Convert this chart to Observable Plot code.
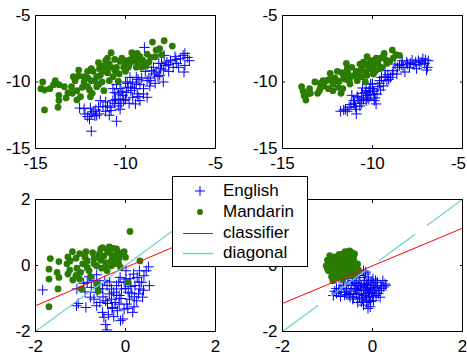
<!DOCTYPE html>
<html><head><meta charset="utf-8">
<script src="https://cdn.jsdelivr.net/npm/d3@7"></script>
<script src="https://cdn.jsdelivr.net/npm/@observablehq/plot@0.6"></script>
<style>
body{margin:0;background:#fff;}
#wrap{position:relative;width:467px;height:356px;overflow:hidden;font-family:"Liberation Sans",Arial,sans-serif;}
#wrap > svg{position:absolute;overflow:visible;}
.leg{position:absolute;left:172px;top:176px;width:134px;height:89px;background:#fff;border:1px solid #000;font-size:17px;color:#000;}
.leg .row{position:absolute;left:0;height:20px;width:134px;}
.leg .lbl{position:absolute;left:50px;top:0;line-height:20px;white-space:nowrap;}
.leg svg{position:absolute;left:0;top:0;}
</style></head><body><div id="wrap"></div>
<script>
// ---------- data ----------
const legendLabels = ["English", "Mandarin", "classifier", "diagonal"];
const topTicks = [-15, -10, -5];
const bottomTicks = [-2, 0, 2];

const tlMandarin = [[-14.6,-10.0],[-14.7,-10.5],[-14.5,-10.6],[-14.2,-10.5],[-14.5,-12.1],[-13.9,-9.9],[-13.7,-10.2],[-13.7,-11.0],[-13.7,-11.4],[-13.75,-11.9],[-13.4,-10.35],[-13.0,-10.35],[-12.95,-10.85],[-12.7,-10.65],[-12.6,-9.1],[-12.6,-9.55],[-12.7,-11.35],[-12.5,-11.1],[-12.3,-10.0],[-12.1,-9.2],[-12.1,-9.7],[-12.1,-10.35],[-11.95,-11.1],[-11.85,-10.85],[-11.8,-9.2],[-11.7,-9.9],[-11.6,-10.35],[-11.5,-8.55],[-11.45,-9.0],[-11.4,-9.5],[-11.3,-10.0],[-11.2,-10.65],[-11.1,-8.9],[-11.0,-9.3],[-10.9,-8.65],[-10.8,-7.8],[-10.7,-9.6],[-10.6,-8.3],[-10.5,-8.9],[-10.4,-9.95],[-10.35,-9.4],[-10.3,-8.45],[-10.1,-8.9],[-9.9,-8.4],[-9.85,-8.9],[-9.65,-7.8],[-9.6,-8.45],[-9.5,-8.0],[-9.35,-7.85],[-9.3,-8.5],[-9.2,-8.1],[-9.05,-8.35],[-8.95,-8.7],[-8.85,-8.8],[-8.8,-7.9],[-8.6,-8.15],[-8.5,-7.0],[-8.35,-8.1],[-8.1,-7.5],[-8.0,-7.95],[-7.85,-6.9],[-7.4,-7.3],[-11.0,-8.2],[-10.0,-8.6],[-12.3,-9.6],[-11.6,-9.6],[-10.5,-9.3],[-9.4,-8.9],[-12.9,-9.6],[-11.3,-8.8],[-10.8,-8.9],[-9.7,-8.3],[-13.2,-10.8],[-12.4,-10.4],[-11.9,-9.9],[-11.2,-9.2],[-10.9,-9.9],[-10.6,-9.1],[-10.2,-8.2],[-9.8,-8.7],[-9.1,-8.9],[-8.7,-8.5],[-12.0,-10.6],[-11.5,-10.2],[-13.3,-11.2],[-12.8,-9.9],[-11.1,-8.4],[-10.0,-9.2],[-9.4,-8.3],[-8.3,-7.6],[-14.0,-10.2],[-11.9,-9.0]];
const tlEnglish = [[-11.9,-13.7],[-10.5,-12.95],[-12.55,-11.96],[-12.25,-12.4],[-12.1,-12.6],[-11.95,-11.96],[-11.8,-12.24],[-11.65,-12.1],[-11.5,-11.86],[-11.45,-12.4],[-11.25,-11.86],[-11.0,-11.8],[-10.85,-11.9],[-10.7,-11.4],[-10.6,-10.8],[-10.55,-11.3],[-10.4,-11.8],[-10.3,-12.05],[-10.3,-10.5],[-10.15,-11.0],[-10.1,-11.4],[-9.95,-10.8],[-9.85,-10.4],[-9.7,-10.65],[-9.6,-11.15],[-9.45,-11.65],[-9.4,-10.15],[-9.35,-10.9],[-9.2,-11.4],[-9.1,-9.7],[-9.0,-10.5],[-8.8,-9.9],[-8.7,-9.7],[-8.65,-10.3],[-8.55,-9.15],[-8.45,-8.9],[-8.3,-9.25],[-8.15,-8.6],[-8.1,-9.5],[-8.05,-9.0],[-7.9,-10.0],[-7.85,-8.0],[-7.8,-8.75],[-7.7,-8.5],[-7.6,-9.2],[-7.5,-8.4],[-7.35,-8.9],[-7.25,-8.1],[-7.15,-8.6],[-7.05,-8.9],[-6.95,-8.25],[-6.8,-8.0],[-6.75,-9.25],[-6.7,-7.85],[-6.55,-8.15],[-6.45,-8.4],[-6.7,-8.75],[-8.95,-7.4],[-10.0,-10.0],[-9.75,-9.65],[-9.4,-9.65],[-8.8,-11.15],[-8.35,-10.1],[-10.8,-12.15],[-10.25,-11.6],[-11.1,-12.2],[-11.7,-12.55],[-11.4,-11.4],[-10.4,-10.9],[-10.0,-11.3],[-9.9,-10.1],[-9.5,-10.5],[-10.2,-10.7],[-9.3,-9.8],[-8.9,-9.2],[-10.6,-11.6],[-11.9,-12.4],[-9.6,-10.0],[-12.3,-12.0],[-11.6,-12.5],[-11.1,-11.5],[-10.9,-12.5],[-10.3,-11.3],[-9.8,-11.6],[-9.3,-11.1],[-9.0,-10.9],[-8.6,-9.9],[-8.2,-9.6],[-8.0,-8.6],[-7.6,-8.7],[-7.2,-8.3],[-10.7,-10.5],[-10.5,-10.2],[-9.7,-10.4],[-9.2,-10.2],[-8.4,-9.4],[-7.9,-9.1],[-12.0,-12.8]];

const trMandarin = [[-13.94,-10.35],[-13.85,-10.7],[-13.7,-11.36],[-13.8,-11.03],[-13.6,-10.9],[-13.45,-10.85],[-13.2,-10.0],[-13.05,-10.85],[-12.95,-10.65],[-12.75,-9.9],[-12.7,-10.3],[-12.55,-9.9],[-12.45,-10.5],[-12.35,-9.35],[-12.2,-10.15],[-12.2,-10.65],[-12.1,-9.7],[-11.95,-9.2],[-11.85,-9.95],[-11.75,-10.85],[-11.65,-10.5],[-11.6,-9.65],[-11.45,-8.6],[-11.4,-9.0],[-11.35,-9.4],[-11.25,-10.15],[-11.15,-8.9],[-11.0,-9.5],[-10.9,-9.2],[-10.85,-9.9],[-10.7,-8.65],[-10.65,-9.1],[-10.6,-9.6],[-10.45,-8.75],[-10.35,-9.25],[-10.3,-8.1],[-10.2,-8.6],[-10.15,-9.0],[-10.05,-8.4],[-9.95,-8.75],[-9.85,-9.2],[-9.8,-8.2],[-9.7,-8.6],[-9.6,-9.0],[-9.55,-8.2],[-9.5,-8.9],[-9.35,-7.85],[-9.25,-8.35],[-9.05,-8.45],[-8.85,-8.2],[-8.7,-7.95],[-8.5,-8.0],[-8.9,-7.6],[-12.9,-10.45],[-11.3,-9.9],[-10.4,-10.0],[-9.95,-9.4],[-13.5,-10.5],[-12.9,-10.1],[-12.4,-9.8],[-12.0,-9.9],[-11.7,-9.3],[-11.2,-9.6],[-10.8,-9.4],[-10.5,-8.5],[-10.0,-8.9],[-9.7,-8.4],[-9.2,-8.6],[-11.9,-10.4],[-11.5,-9.8],[-10.3,-9.5],[-9.4,-8.1]];
const trEnglish = [[-11.77,-12.2],[-11.5,-12.05],[-11.4,-12.2],[-11.2,-11.7],[-11.05,-11.4],[-10.95,-11.85],[-10.9,-12.4],[-10.85,-11.1],[-10.7,-11.4],[-10.6,-10.85],[-10.5,-11.3],[-10.35,-10.65],[-10.3,-11.0],[-10.15,-10.45],[-10.1,-10.95],[-10.0,-10.15],[-9.95,-10.7],[-9.85,-11.2],[-9.8,-11.65],[-9.7,-10.35],[-9.6,-9.9],[-9.55,-10.6],[-9.5,-9.65],[-9.4,-10.3],[-9.3,-9.15],[-9.2,-9.9],[-9.15,-9.45],[-9.0,-9.65],[-8.85,-9.15],[-8.75,-8.65],[-8.65,-9.4],[-8.5,-8.75],[-8.35,-8.4],[-8.3,-8.9],[-8.2,-9.25],[-8.05,-8.65],[-7.95,-8.9],[-7.8,-8.35],[-7.7,-8.7],[-7.55,-9.0],[-7.45,-8.4],[-7.3,-8.5],[-7.2,-8.25],[-7.05,-8.35],[-7.0,-9.1],[-6.9,-8.4],[-6.95,-8.9],[-10.35,-11.4],[-10.7,-11.8],[-10.1,-10.15],[-9.75,-10.9],[-10.55,-10.45],[-11.15,-11.0],[-10.9,-12.05],[-10.2,-11.3],[-11.6,-12.1],[-11.3,-11.9],[-11.0,-11.6],[-10.8,-11.2],[-10.4,-10.8],[-10.2,-10.7],[-10.0,-10.5],[-9.9,-10.9],[-9.6,-10.1],[-9.3,-9.6],[-9.1,-9.8],[-8.9,-9.4],[-8.6,-8.9],[-8.4,-8.7],[-8.1,-8.5],[-7.9,-8.6],[-7.6,-8.5],[-7.4,-8.7],[-7.1,-8.6],[-10.6,-11.6],[-10.3,-11.2],[-9.9,-11.4]];

const blMandarin = [[0.1,1.03],[-1.67,0.21],[-1.7,-0.11],[-1.7,-0.41],[-1.7,-1.25],[-1.48,0.12],[-1.52,-0.21],[-1.48,-0.36],[-1.5,-0.71],[-1.28,0.26],[-1.23,0.14],[-1.24,-0.14],[-1.28,-0.26],[-1.18,0.42],[-1.17,-0.44],[-1.1,0.22],[-1.08,-0.08],[-1.02,0.36],[-1.0,-0.21],[-1.02,-0.41],[-0.98,-0.71],[-0.88,0.42],[-0.85,0.14],[-0.81,-0.16],[-0.78,-0.34],[-0.73,0.39],[-0.7,0.22],[-0.64,-0.01],[-0.63,-0.56],[-0.58,0.36],[-0.55,0.16],[-0.53,-0.08],[-0.51,0.54],[-0.48,0.29],[-0.44,0.09],[-0.41,-0.16],[-0.36,0.56],[-0.35,0.39],[-0.31,0.16],[-0.27,0.52],[-0.23,0.29],[-0.21,0.06],[-0.18,0.44],[-0.14,0.22],[-0.11,-0.06],[-0.03,0.42],[0.06,-0.51],[0.32,0.14],[-0.61,-0.78],[-0.85,-0.06],[-0.31,-0.01],[-0.4,0.45],[-0.3,0.3],[-0.2,0.5],[-0.1,0.35],[-0.6,0.25],[-0.7,0.05],[-0.9,0.25],[-0.45,-0.05],[-0.25,0.1],[-1.1,-0.3],[-0.95,0.05],[0.0,0.25],[-0.55,0.5],[-1.3,0.05],[-0.15,0.05]];
const blEnglish = [[-1.84,-0.74],[-0.44,-1.79],[-0.41,-1.95],[-1.05,-1.15],[-1.09,-1.22],[-0.88,-1.27],[-0.78,-0.96],[-0.7,-1.02],[-0.63,-0.81],[-0.57,-1.12],[-0.51,-1.42],[-0.48,-1.57],[-0.38,-1.49],[-0.29,-1.27],[-0.26,-1.55],[-0.18,-1.37],[-0.14,-1.17],[-0.11,-1.67],[-0.06,-1.62],[-0.03,-1.32],[0.03,-1.17],[0.09,-1.02],[0.16,-1.42],[0.19,-1.25],[0.25,-1.07],[0.29,-0.86],[0.32,-0.71],[0.36,-0.51],[0.38,-0.96],[0.41,-0.31],[0.46,-0.16],[0.51,-0.04],[0.53,-0.61],[0.31,-0.16],[0.26,-0.36],[0.18,-0.26],[0.12,-0.64],[0.06,-0.81],[0.01,-0.41],[-0.03,-0.51],[-0.09,-0.71],[-0.14,-0.91],[-0.2,-0.61],[-0.26,-0.81],[-0.31,-1.02],[-0.36,-0.86],[-0.41,-0.61],[-0.46,-0.46],[-0.51,-0.71],[-0.57,-0.56],[-0.64,-0.28],[-0.7,-0.46],[-0.76,-0.66],[-0.81,-0.34],[-0.85,-0.51],[-0.93,-0.54],[-1.02,-0.16],[-1.08,-0.71],[-0.64,-1.22],[-0.44,-1.07],[-0.23,-1.12],[0.14,-0.84],[0.21,-0.61],[0.01,-0.16],[-0.12,-0.36],[-0.31,-0.71],[-0.2,-0.9],[-0.1,-1.0],[0.0,-0.7],[0.1,-0.4],[0.2,-0.95],[-0.35,-0.5],[-0.5,-0.95],[-0.3,-1.3],[-0.15,-0.5],[0.3,-0.5],[0.4,-0.75],[-0.6,-0.7],[-0.9,-0.8],[0.05,-1.3],[-0.4,-1.15]];
const blClassifier = [[-2,-1.22],[2,1.10]];
const blDiagonal = [[-2,-2],[2,2]];

const brMandarin = [[-1.0,0.16],[-1.03,-0.01],[-0.98,-0.16],[-0.91,-0.34],[-0.88,-0.46],[-0.94,0.22],[-0.83,0.26],[-0.78,0.16],[-0.74,0.34],[-0.71,0.09],[-0.65,0.22],[-0.61,0.42],[-0.56,0.32],[-0.51,0.44],[-0.46,0.39],[-0.42,0.24],[-0.39,0.09],[-0.36,-0.06],[-0.44,-0.16],[-0.51,-0.24],[-0.61,-0.26],[-0.68,-0.16],[-0.76,-0.11],[-0.83,-0.01],[-0.87,0.09],[-0.8,-0.26],[-0.72,-0.36],[-0.54,-0.01],[-0.65,-0.06],[-0.46,0.14],[-0.33,0.04],[-0.31,-0.14],[-0.41,-0.26],[-0.57,0.19],[-0.5,0.29],[-0.91,-0.06],[-0.96,0.06],[-0.74,-0.01],[-0.59,-0.14],[-0.85,-0.44],[-0.66,-0.41],[-0.95,0.3],[-0.9,0.1],[-0.85,-0.2],[-0.8,0.0],[-0.75,0.2],[-0.7,-0.05],[-0.65,0.35],[-0.6,0.05],[-0.55,0.15],[-0.5,-0.1],[-0.45,0.05],[-0.4,0.35],[-0.38,-0.2],[-0.62,-0.35],[-0.78,-0.3],[-0.7,0.3],[-0.53,0.42],[-0.48,-0.3],[-0.88,-0.3],[-1.0,-0.1]];
const brEnglish = [[-0.8,-0.84],[-0.74,-0.71],[-0.71,-0.94],[-0.65,-0.61],[-0.61,-0.81],[-0.54,-0.56],[-0.5,-0.96],[-0.44,-0.46],[-0.41,-0.71],[-0.36,-0.88],[-0.33,-1.12],[-0.31,-0.61],[-0.28,-0.36],[-0.24,-0.76],[-0.22,-1.02],[-0.19,-0.56],[-0.16,-0.26],[-0.14,-0.86],[-0.13,-1.12],[-0.11,-0.71],[-0.09,-0.46],[-0.07,-0.96],[-0.05,-1.25],[-0.04,-0.61],[-0.01,-0.81],[0.01,-0.41],[0.02,-1.07],[0.06,-0.66],[0.08,-0.91],[0.11,-0.51],[0.16,-0.76],[0.19,-0.61],[0.23,-0.46],[0.28,-0.56],[0.17,-0.96],[-0.16,-0.66],[-0.09,-0.81],[-0.29,-0.98],[-0.39,-0.51],[-0.48,-0.78],[-0.2,-0.16],[-0.57,-0.88],[0.02,-0.56],[-0.24,-0.61],[-0.13,-0.56],[-0.05,-0.71],[-0.19,-0.91],[0.01,-0.86],[-0.04,-1.09],[-0.33,-0.74],[-0.44,-1.02],[-0.87,-0.91],[-0.75,-0.8],[-0.7,-0.7],[-0.62,-0.9],[-0.58,-0.7],[-0.52,-0.85],[-0.46,-0.6],[-0.42,-0.95],[-0.38,-0.7],[-0.35,-0.55],[-0.3,-0.85],[-0.27,-0.65],[-0.25,-1.1],[-0.2,-0.75],[-0.18,-0.45],[-0.15,-0.95],[-0.12,-0.6],[-0.1,-0.35],[-0.08,-1.05],[-0.06,-0.85],[-0.03,-0.5],[0.0,-0.95],[0.04,-0.75],[0.07,-0.45],[0.1,-0.65],[0.13,-0.85],[0.2,-0.7],[0.25,-0.65],[0.3,-0.6],[-0.1,-1.3],[-0.2,-1.2],[-0.3,-0.3],[-0.15,-0.2],[-0.45,-0.4],[-0.65,-0.5],[-0.8,-0.7],[-0.84,-0.78]];
const brClassifier = [[-2,-1.15],[2,1.13]];
const brDiagonal = [[-2,-2],[2,2]];

// ---------- styles ----------
const BLUE = "#0000ff", GREEN = "#2a7d00", RED = "#ff0000", CYAN = "#6cd0d0";
const FONT = "'Liberation Sans', Arial, sans-serif";
const plusSymbol = {
  draw(ctx, size) {
    const r = Math.sqrt(size / Math.PI);
    ctx.moveTo(-r, 0); ctx.lineTo(r, 0);
    ctx.moveTo(0, -r); ctx.lineTo(0, r);
  }
};

function panel(o) {
  const ticks = o.ticks;
  const marks = [
    Plot.dot(o.english, {x: d => d[0], y: d => d[1], symbol: plusSymbol, r: 5.2, stroke: BLUE, strokeWidth: 1, fill: "none", clip: true}),
    Plot.dot(o.mandarin, {x: d => d[0], y: d => d[1], r: 3.4, fill: GREEN, stroke: "none", clip: true})
  ];
  if (o.classifier) marks.push(Plot.line(o.classifier, {x: d => d[0], y: d => d[1], stroke: RED, strokeWidth: 1, clip: true}));
  if (o.diagonal) marks.push(Plot.line(o.diagonal, {x: d => d[0], y: d => d[1], stroke: CYAN, strokeWidth: 1.2, strokeDasharray: o.dash || null, clip: true}));
  const lastShift = o.lastLabelDx || 0;
  const xLabelTicks = lastShift ? ticks.slice(0, -1) : ticks;
  marks.push(
    Plot.frame({stroke: "#000", strokeWidth: 1}),
    Plot.axisX(xLabelTicks, {anchor: "bottom", tickSize: 0, tickPadding: 8, tickFormat: d => String(d)}),
    Plot.axisY(ticks, {anchor: "left", tickSize: 0, tickPadding: 5, tickFormat: d => String(d)}),
    Plot.axisX(ticks, {anchor: "bottom", tickSize: 3, dy: -3, tickFormat: () => ""}),
    Plot.axisX(ticks, {anchor: "top", tickSize: 3, dy: 3, tickFormat: () => ""}),
    Plot.axisY(ticks, {anchor: "left", tickSize: 3, dx: 3, tickFormat: () => ""}),
    Plot.axisY(ticks, {anchor: "right", tickSize: 3, dx: -3, tickFormat: () => ""})
  );
  if (lastShift) marks.push(Plot.axisX(ticks.slice(-1), {anchor: "bottom", tickSize: 0, tickPadding: 8, dx: lastShift, tickFormat: d => String(d)}));
  const svg = Plot.plot({
    width: o.width, height: o.height,
    marginLeft: o.ml, marginRight: o.mr, marginTop: o.mt, marginBottom: o.mb,
    x: {domain: o.domain},
    y: {domain: o.domain},
    style: `font-family:${FONT};font-size:17px;color:#000;background:transparent;overflow:visible;`,
    marks
  });
  svg.style.left = o.left + "px";
  svg.style.top = o.top + "px";
  document.getElementById("wrap").appendChild(svg);
}

panel({english: tlEnglish, mandarin: tlMandarin, ticks: topTicks, domain: [-15, -5],
  left: 0, top: 0, width: 233, height: 178, ml: 35, mr: 18, mt: 15, mb: 30});
panel({english: trEnglish, mandarin: trMandarin, ticks: topTicks, domain: [-15, -5], lastLabelDx: -4,
  left: 233, top: 0, width: 234, height: 178, ml: 49, mr: 5, mt: 15, mb: 30});
panel({english: blEnglish, mandarin: blMandarin, classifier: blClassifier, diagonal: blDiagonal, ticks: bottomTicks, domain: [-2, 2],
  left: 0, top: 178, width: 233, height: 178, ml: 35, mr: 18, mt: 21, mb: 25});
panel({english: brEnglish, mandarin: brMandarin, classifier: brClassifier, diagonal: brDiagonal, dash: "44,16", ticks: bottomTicks, domain: [-2, 2],
  left: 233, top: 178, width: 234, height: 178, ml: 49, mr: 5, mt: 21, mb: 25});

// ---------- legend ----------
const leg = document.createElement("div");
leg.className = "leg";
const rowTops = [4, 25, 46, 66];
const symbolsSvg = [
  `<svg width="50" height="20"><path d="M27,5V15M22,10H32" stroke="${BLUE}" stroke-width="1" fill="none"/></svg>`,
  `<svg width="50" height="20"><circle cx="27" cy="10" r="3" fill="${GREEN}"/></svg>`,
  `<svg width="50" height="20"><line x1="10" x2="40" y1="10.5" y2="10.5" stroke="${RED}" stroke-width="1"/></svg>`,
  `<svg width="50" height="20"><line x1="10" x2="40" y1="10.5" y2="10.5" stroke="${CYAN}" stroke-width="1.5"/></svg>`
];
legendLabels.forEach((lab, i) => {
  const row = document.createElement("div");
  row.className = "row";
  row.style.top = rowTops[i] + "px";
  row.innerHTML = symbolsSvg[i];
  const t = document.createElement("span");
  t.className = "lbl";
  t.textContent = lab;
  row.appendChild(t);
  leg.appendChild(row);
});
document.getElementById("wrap").appendChild(leg);
</script></body></html>
